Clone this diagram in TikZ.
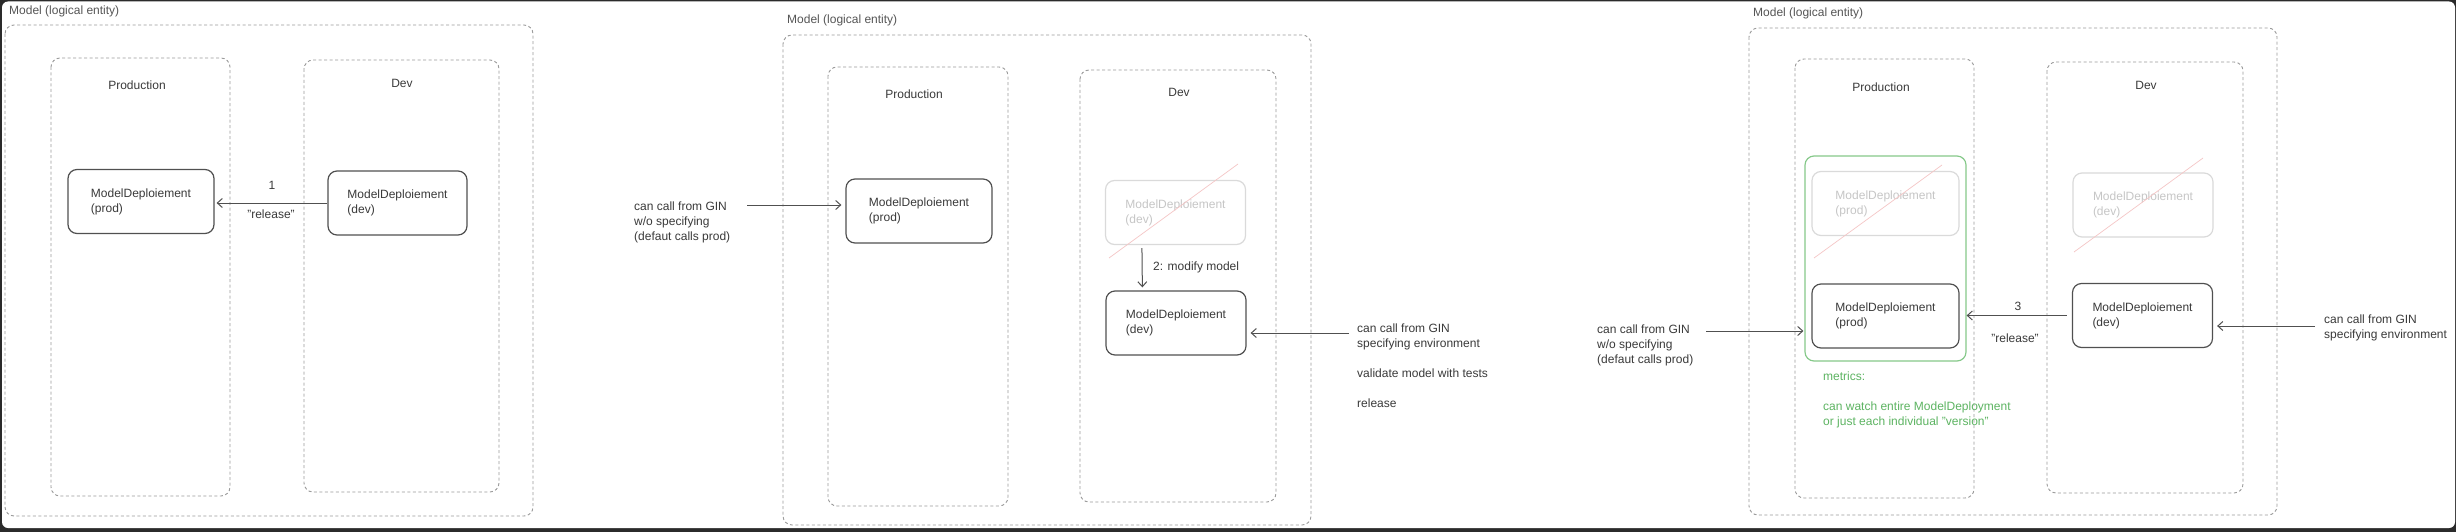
\documentclass[tikz,border=0pt]{standalone}
\usepackage{fontspec}
\setmainfont{Liberation Sans}
\usepackage{tikz}
\usetikzlibrary{arrows.meta}

\definecolor{framedark}{HTML}{2B2B2B}
\definecolor{inkgray}{HTML}{3A3A3A}
\definecolor{titlegray}{HTML}{555555}
\definecolor{zonegray}{HTML}{9A9A9A}
\definecolor{boxgray}{HTML}{505050}
\definecolor{fadegray}{HTML}{DADADA}
\definecolor{fadetext}{HTML}{C6C6C6}
\definecolor{strikered}{HTML}{F5C6C6}
\definecolor{metricgreen}{HTML}{86C98A}
\definecolor{metrictext}{HTML}{5DB462}

\tikzset{
  zone/.style={draw=zonegray, line width=0.9pt, dash pattern=on 3pt off 2.5pt, rounded corners=9pt},
  deploy/.style={draw=boxgray, line width=1.2pt, rounded corners=9pt, minimum width=144pt, minimum height=64pt, align=left, text=inkgray, font=\fontsize{12}{15}\selectfont},
  faded/.style={deploy, draw=fadegray, text=fadetext},
  caption/.style={inner sep=0pt, text=inkgray, font=\fontsize{12}{15}\selectfont},
  note/.style={caption, align=left, anchor=west},
  arr/.style={draw=boxgray, line width=1pt, -{Straight Barb[length=5pt,width=9pt]}},
  strike/.style={draw=strikered, line width=0.7pt},
}

\begin{document}
\begin{tikzpicture}[x=1pt,y=1pt,yscale=-1,xscale=1]
\useasboundingbox (0,0) rectangle (2456,532);

%Shape: Frame
\fill[framedark] (0,0) rectangle (2456,532);
\fill[white, rounded corners=6pt] (2,1.5) rectangle (2455,528);

% ---------- state 1 ----------
%Shape: Rectangle
\draw[zone] (5,25) rectangle (533,516);
%Shape: Rectangle
\draw[zone] (51,58) rectangle (230,496);
%Shape: Rectangle
\draw[zone] (304,60) rectangle (499,492);

% Text Node
\node[caption, anchor=west, text=titlegray] (model1) at (9,11) {Model (logical entity)};
% Text Node
\node[caption] (prodzone1) at (137,85) {Production};
% Text Node
\node[caption] (devzone1) at (402,83) {Dev};

\node[deploy, minimum width=146pt] (prod1) at (141,201.5) {ModelDeploiement\\(prod)};
\node[deploy, minimum width=139pt] (dev1) at (397.5,203) {ModelDeploiement\\(dev)};

%Straight Lines
\draw[arr, shorten >=2pt] (dev1.west) -- (dev1.west -| prod1.east);
% Text Node
\node[caption] (step1) at (272,185) {1};
% Text Node
\node[caption] (rel1) at (271,214) {"release"};

% ---------- state 2 ----------
%Shape: Rectangle
\draw[zone] (783,35) rectangle (1311,525);
%Shape: Rectangle
\draw[zone] (828,67) rectangle (1008,506);
%Shape: Rectangle
\draw[zone] (1080,70) rectangle (1276,502);

% Text Node
\node[caption, anchor=west, text=titlegray] (model2) at (787,20) {Model (logical entity)};
% Text Node
\node[caption] (prodzone2) at (914,94) {Production};
% Text Node
\node[caption] (devzone2) at (1179,92) {Dev};

\node[deploy, minimum width=146pt] (prod2) at (919,211) {ModelDeploiement\\(prod)};
\node[faded, minimum width=140pt] (fdev2) at (1175.5,212.5) {ModelDeploiement\\(dev)};
\node[deploy, minimum width=140pt] (dev2) at (1176,323) {ModelDeploiement\\(dev)};
%Straight Lines
\draw[strike] (1109,258) -- (1238,164);

%Straight Lines
\draw[arr, shorten <=3pt, shorten >=3pt] ([xshift=37pt]fdev2.south west) -- ([xshift=37pt]dev2.north west);
% Text Node
\node[note] (modify2) at (1153,267) {2: modify model};

% Text Node
\node[note] (gin2) at (634,222.5) {can call from GIN\\w/o specifying\\(defaut calls prod)};
\coordinate (gin2tail) at (747,205);
\draw[arr, shorten >=4pt] (gin2tail) -- (gin2tail -| prod2.west);

% Text Node
\node[note] (env2) at (1357,365.5) {can call from GIN\\specifying environment\\[15pt]validate model with tests\\[15pt]release};
\coordinate (env2tail) at (1349,333);
\draw[arr, shorten >=4pt] (env2tail) -- (env2tail -| dev2.east);

% ---------- state 3 ----------
%Shape: Rectangle
\draw[zone] (1749,28) rectangle (2277,515);
%Shape: Rectangle
\draw[zone] (1795,59) rectangle (1974,498);
%Shape: Rectangle
\draw[zone] (2047,62) rectangle (2243,493);

% Text Node
\node[caption, anchor=west, text=titlegray] (model3) at (1753,13) {Model (logical entity)};
% Text Node
\node[caption] (prodzone3) at (1881,87) {Production};
% Text Node
\node[caption] (devzone3) at (2146,85) {Dev};

%Shape: Rectangle
\node[draw=metricgreen, line width=1.2pt, rounded corners=9pt, minimum width=161pt, minimum height=205pt] (metricbox) at (1885.5,258.5) {};
\node[faded, minimum width=147pt] (fprod3) at (1885.5,203.5) {ModelDeploiement\\(prod)};
\node[deploy, minimum width=147pt] (prod3) at (1885.5,316) {ModelDeploiement\\(prod)};
%Straight Lines
\draw[strike] (1814,258) -- (1942,165);

\node[faded, minimum width=140pt] (fdev3) at (2143,205) {ModelDeploiement\\(dev)};
\node[deploy, minimum width=140pt] (dev3) at (2142.5,315.5) {ModelDeploiement\\(dev)};
%Straight Lines
\draw[strike] (2074,252) -- (2203,158);

%Straight Lines
\draw[arr, shorten <=5pt] (dev3.west) -- (dev3.west -| metricbox.east);
% Text Node
\node[caption] (step3) at (2018,306) {3};
% Text Node
\node[caption] (rel3) at (2015,338) {"release"};

% Text Node
\node[note, text=metrictext] (metrics3) at (1823,399.5) {metrics:\\[15pt]can watch entire ModelDeployment\\or just each individual "version"};

% Text Node
\node[note] (gin3) at (1597,345) {can call from GIN\\w/o specifying\\(defaut calls prod)};
\coordinate (gin3tail) at (1706,331);
\draw[arr, shorten >=1pt] (gin3tail) -- (gin3tail -| metricbox.west);

% Text Node
\node[note] (env3) at (2324,328) {can call from GIN\\specifying environment};
\coordinate (env3tail) at (2315,326);
\draw[arr, shorten >=4pt] (env3tail) -- (env3tail -| dev3.east);

\end{tikzpicture}
\end{document}
